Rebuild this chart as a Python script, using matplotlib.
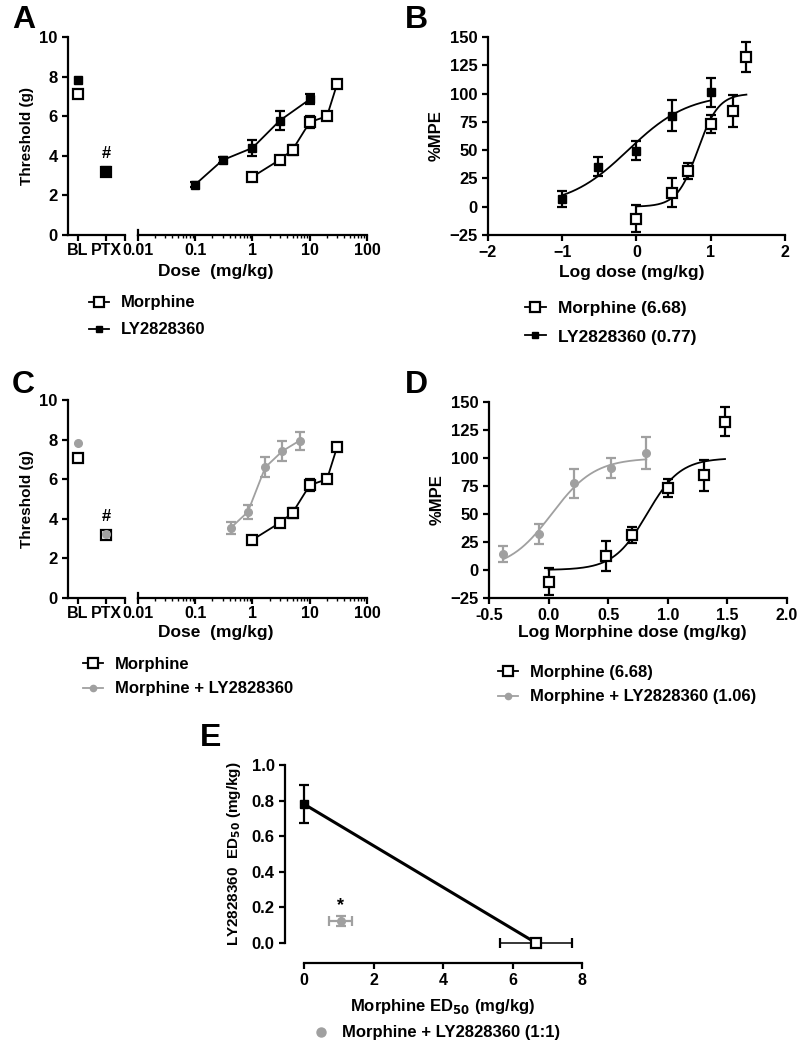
import numpy as np
import matplotlib
matplotlib.use("Agg")
import matplotlib.pyplot as plt
from matplotlib.lines import Line2D

W, H = 804, 1050
GRAY = "#a0a0a0"

plt.rcParams["font.family"] = ["Liberation Sans", "DejaVu Sans"]
plt.rcParams["font.weight"] = "bold"
plt.rcParams["font.size"] = 11
plt.rcParams["axes.labelweight"] = "bold"
plt.rcParams["axes.linewidth"] = 1.6
plt.rcParams["xtick.major.width"] = 1.6
plt.rcParams["ytick.major.width"] = 1.6
plt.rcParams["xtick.minor.width"] = 1.0
plt.rcParams["xtick.major.size"] = 4
plt.rcParams["ytick.major.size"] = 4
plt.rcParams["xtick.minor.size"] = 2.5
plt.rcParams["xtick.labelsize"] = 11.5
plt.rcParams["ytick.labelsize"] = 12

# ---- panel A: threshold vs dose ----
morph_bl_ptx = [7.1, 3.2]
ly_bl_ptx = [7.85, 3.25]
morph_dose = [1, 3, 5, 10, 20, 30]
morph_thr = [2.94, 3.8, 4.3, 5.7, 6.0, 7.62]
morph_thr_err = [0.1, 0.1, 0.25, 0.3, 0.1, 0.12]
ly_dose = [0.1, 0.3, 1, 3, 10]
ly_thr = [2.55, 3.78, 4.4, 5.78, 6.85]
ly_thr_err = [0.15, 0.15, 0.42, 0.48, 0.25]

# ---- panel C: combination (morphine dose axis) ----
combo_bl_ptx = [7.85, 3.23]
morph_bl_ptx_c = [7.08, 3.2]
combo_dose = [0.42, 0.83, 1.67, 3.33, 6.67]
combo_thr = [3.55, 4.35, 6.6, 7.42, 7.95]
combo_thr_err = [0.3, 0.35, 0.5, 0.5, 0.45]

# ---- panels B/D: %MPE vs log dose ----
morph_logdose = [0.0, 0.48, 0.7, 1.0, 1.3, 1.48]
morph_mpe = [-10.5, 12.5, 31.5, 73.5, 84.5, 132.5]
morph_mpe_err = [12, 13, 7, 8, 14, 13]
ly_logdose = [-1.0, -0.52, 0.0, 0.48, 1.0]
ly_mpe = [6.5, 35.5, 49.5, 80.5, 101]
ly_mpe_err = [7, 8, 8.5, 14, 13]
combo_logdose = [-0.38, -0.08, 0.21, 0.52, 0.82]
combo_mpe = [14.5, 32, 77.5, 91, 104.5]
combo_mpe_err = [7, 9, 13, 9, 14]

# fitted sigmoid parameters (ED50 in mg/kg, hill slope)
morph_ed50, morph_hill = 6.68, 3.1
ly_ed50, ly_hill = 0.77, 1.07
combo_ed50, combo_hill = 1.06, 2.4

# ---- panel E: isobologram ----
iso_morph_ed50 = [0.0, 6.68]
iso_ly_ed50 = [0.78, 0.0]
ly_ed50_err = 0.105
morph_ed50_err = 1.03
mix_x, mix_y = 1.06, 0.124
mix_xerr, mix_yerr = 0.33, 0.03

fig = plt.figure(figsize=(W / 100, H / 100), dpi=100)


def ax_px(x0, y0, x1, y1):
    return fig.add_axes([x0 / W, 1 - y1 / H, (x1 - x0) / W, (y1 - y0) / H])


def clean(ax):
    ax.spines["top"].set_visible(False)
    ax.spines["right"].set_visible(False)


def sq_open(ax, x, y, yerr=None, xerr=None, ls="-", z=3, **kw):
    return ax.errorbar(x, y, yerr=yerr, xerr=xerr, fmt="s", ls=ls, color="black",
                       mfc="white", mec="black", mew=1.6, ms=7.5, lw=1.3,
                       elinewidth=1.6, capsize=3.5, capthick=1.6, zorder=z, **kw)


def sq_fill(ax, x, y, yerr=None, xerr=None, ls="-", z=3, **kw):
    return ax.errorbar(x, y, yerr=yerr, xerr=xerr, fmt="s", ls=ls, color="black",
                       ms=6, lw=1.3, elinewidth=1.6, capsize=3.5, capthick=1.6,
                       zorder=z, **kw)


def circ_gray(ax, x, y, yerr=None, xerr=None, ls="-", z=4, **kw):
    return ax.errorbar(x, y, yerr=yerr, xerr=xerr, fmt="o", ls=ls, color=GRAY,
                       ms=5.5, lw=1.3, elinewidth=1.6, capsize=3.5, capthick=1.6,
                       zorder=z, **kw)


def sigmoid(x, ed50, hill):
    return 100 / (1 + 10 ** ((np.log10(ed50) - x) * hill))


def place_xlabel(text, xc, yc, fs=12.5):
    # xc, yc in figure pixels (centre of the label)
    fig.text(xc / W, 1 - yc / H, text, ha="center", va="center",
             fontsize=fs, fontweight="bold")


def broken_axes(top, bottom):
    axl = ax_px(68, top, 125, bottom)
    axr = ax_px(138, top, 367, bottom)
    for a in (axl, axr):
        clean(a)
        a.set_ylim(0, 10)
    axl.set_xlim(-0.36, 1.68)
    axl.set_xticks([0, 1, 1.68])
    axl.set_xticklabels(["BL", "PTX", ""])
    axl.set_yticks([0, 2, 4, 6, 8, 10])
    axl.set_ylabel("Threshold (g)", fontsize=11, labelpad=4)
    axr.spines["left"].set_visible(False)
    axr.set_yticks([])
    axr.set_xscale("log")
    axr.set_xlim(0.01, 100)
    axr.set_xticks([0.01, 0.1, 1, 10, 100])
    axr.set_xticklabels(["0.01", "0.1", "1", "10", "100"])
    axr.tick_params(axis="x", which="minor", length=2.5)
    axl.tick_params(axis="x", pad=2)
    axr.tick_params(axis="x", pad=2)
    # vertical tick at start of the right segment
    axr.plot([0.01, 0.01], [0, 0.25], color="black", lw=1.6, clip_on=False)
    return axl, axr


def legend(handles, labels, x, y, step, fs=12, hl=1.2, pad=0.7):
    # x: left edge of the handle, y: centre of first row (figure pixels)
    for i, (h, lab) in enumerate(zip(handles, labels)):
        fig.legend([h], [lab], loc="center left",
                   bbox_to_anchor=(x / W, 1 - (y + i * step) / H),
                   frameon=False, handlelength=hl, handletextpad=pad,
                   borderpad=0, borderaxespad=0,
                   prop={"weight": "bold", "size": fs})


h_morph = Line2D([], [], color="black", lw=1.3, marker="s", mfc="white", mec="black",
                 mew=1.6, ms=6.5)
h_ly = Line2D([], [], color="black", lw=1.3, marker="s", ms=5)
h_combo = Line2D([], [], color=GRAY, lw=1.3, marker="o", ms=4.5)

# ---------------- A ----------------
axl, axr = broken_axes(37, 235)
sq_fill(axl, [0, 1], ly_bl_ptx, ls="none", z=3)
sq_open(axl, [0, 1], morph_bl_ptx, ls="none", z=4)
sq_fill(axl, [1], [ly_bl_ptx[1]], yerr=[0.2], ls="none", z=5)
axl.text(1, 3.75, "#", ha="center", va="bottom", fontsize=12, fontweight="bold")
sq_fill(axr, ly_dose, ly_thr, yerr=ly_thr_err)
sq_open(axr, morph_dose, morph_thr, yerr=morph_thr_err)
place_xlabel("Dose  (mg/kg)", 216, 272)
legend([h_morph, h_ly], ["Morphine", "LY2828360"], 89, 303, 27)
fig.text(12 / W, 1 - 20 / H, "A", fontsize=23, fontweight="bold", va="center")

# ---------------- B ----------------
axb = ax_px(488, 37, 785, 235)
clean(axb)
axb.set_xlim(-2, 2)
axb.set_ylim(-25, 150)
axb.set_yticks(np.arange(-25, 151, 25))
axb.set_xticks([-2, -1, 0, 1, 2])
xs = np.linspace(ly_logdose[0], ly_logdose[-1], 200)
axb.plot(xs, sigmoid(xs, ly_ed50, ly_hill), color="black", lw=1.3, zorder=2)
xs = np.linspace(morph_logdose[0], morph_logdose[-1], 200)
axb.plot(xs, sigmoid(xs, morph_ed50, morph_hill), color="black", lw=1.3, zorder=2)
sq_fill(axb, ly_logdose, ly_mpe, yerr=ly_mpe_err, ls="none")
sq_open(axb, morph_logdose, morph_mpe, yerr=morph_mpe_err, ls="none")
axb.set_ylabel("%MPE", fontsize=12, labelpad=4)
place_xlabel("Log dose (mg/kg)", 632, 273)
legend([h_morph, h_ly], ["Morphine (6.68)", "LY2828360 (0.77)"], 525, 308, 29, fs=12.5)
fig.text(405 / W, 1 - 20 / H, "B", fontsize=23, fontweight="bold", va="center")

# ---------------- C ----------------
axl, axr = broken_axes(400, 598)
sq_open(axl, [0, 1], morph_bl_ptx_c, ls="none", z=3)
circ_gray(axl, [0, 1], combo_bl_ptx, ls="none", z=4)
axl.text(1, 3.75, "#", ha="center", va="bottom", fontsize=12, fontweight="bold")
sq_open(axr, morph_dose, morph_thr, yerr=morph_thr_err)
circ_gray(axr, combo_dose, combo_thr, yerr=combo_thr_err)
place_xlabel("Dose  (mg/kg)", 216, 633)
legend([h_morph, h_combo], ["Morphine", "Morphine + LY2828360"], 83, 664, 25)
fig.text(12 / W, 1 - 385 / H, "C", fontsize=23, fontweight="bold", va="center")

# ---------------- D ----------------
axd = ax_px(489, 402, 787, 598)
clean(axd)
axd.set_xlim(-0.5, 2.0)
axd.set_ylim(-25, 150)
axd.set_yticks(np.arange(-25, 151, 25))
axd.set_xticks([-0.5, 0, 0.5, 1.0, 1.5, 2.0])
axd.set_xticklabels(["-0.5", "0.0", "0.5", "1.0", "1.5", "2.0"])
xs = np.linspace(combo_logdose[0], combo_logdose[-1], 200)
axd.plot(xs, sigmoid(xs, combo_ed50, combo_hill), color=GRAY, lw=1.3, zorder=2)
xs = np.linspace(morph_logdose[0], morph_logdose[-1], 200)
axd.plot(xs, sigmoid(xs, morph_ed50, morph_hill), color="black", lw=1.3, zorder=2)
circ_gray(axd, combo_logdose, combo_mpe, yerr=combo_mpe_err, ls="none")
sq_open(axd, morph_logdose, morph_mpe, yerr=morph_mpe_err, ls="none")
axd.set_ylabel("%MPE", fontsize=12, labelpad=4)
place_xlabel("Log Morphine dose (mg/kg)", 632, 632)
legend([h_morph, h_combo], ["Morphine (6.68)", "Morphine + LY2828360 (1.06)"], 498, 672, 25)
fig.text(405 / W, 1 - 385 / H, "D", fontsize=23, fontweight="bold", va="center")

# ---------------- E ----------------
axe = ax_px(285, 765, 582, 943)
clean(axe)
axe.set_xlim(-0.55, 8)
axe.set_ylim(0, 1.0)
axe.spines["bottom"].set_position(("outward", 14.4))
axe.spines["bottom"].set_bounds(0, 8)
axe.set_xticks([0, 2, 4, 6, 8])
axe.set_yticks([0, 0.2, 0.4, 0.6, 0.8, 1.0])
axe.set_yticklabels(["0.0", "0.2", "0.4", "0.6", "0.8", "1.0"])
axe.plot(iso_morph_ed50, iso_ly_ed50, color="black", lw=2.2, clip_on=False, zorder=2)
sq_fill(axe, [iso_morph_ed50[0]], [iso_ly_ed50[0]], yerr=[ly_ed50_err], ls="none",
        clip_on=False)
eb = sq_open(axe, [iso_morph_ed50[1]], [iso_ly_ed50[1]], xerr=[morph_ed50_err], ls="none",
             clip_on=False)
for art in eb.lines[2]:
    art.set_linewidth(1.1)
for art in eb.lines[1]:
    art.set_clip_on(False)
circ_gray(axe, [mix_x], [mix_y], xerr=[mix_xerr], yerr=[mix_yerr], ls="none")
axe.text(mix_x, mix_y + 0.04, "*", ha="center", va="bottom", fontsize=13, fontweight="bold")
axe.set_ylabel("LY2828360  ED$_{\\mathbf{50}}$ (mg/kg)", fontsize=11, labelpad=6)
place_xlabel("Morphine ED$_{\\mathbf{50}}$ (mg/kg)", 443, 1006, fs=12)
h_mix = Line2D([], [], ls="none", color=GRAY, marker="o", ms=6.5)
legend([h_mix], ["Morphine + LY2828360 (1:1)"], 313, 1033, 0, fs=12, hl=1.0, pad=0.75)
fig.text(200 / W, 1 - 738 / H, "E", fontsize=23, fontweight="bold", va="center")

fig.savefig("out.png", dpi=100)
